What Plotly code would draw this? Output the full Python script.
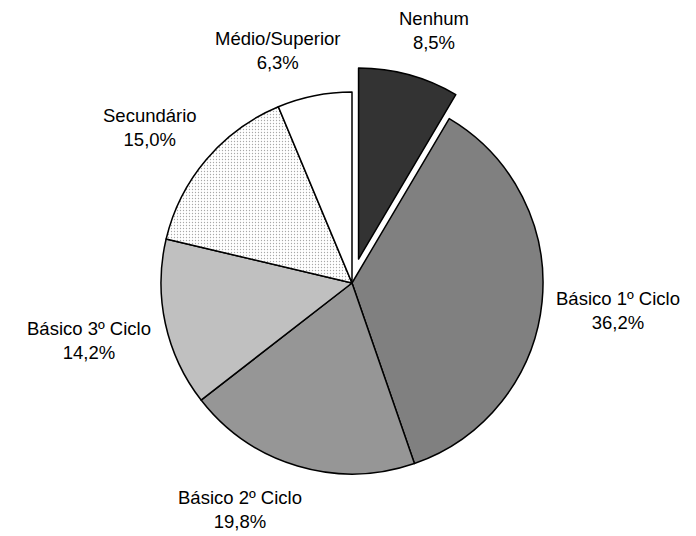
import numpy as np
import plotly.graph_objects as go

categorias = ["Nenhum", "Básico 1º Ciclo", "Básico 2º Ciclo", "Básico 3º Ciclo",
              "Secundário", "Médio/Superior"]
valores = [8.5, 36.2, 19.8, 14.2, 15.0, 6.3]
etiquetas = ["8,5%", "36,2%", "19,8%", "14,2%", "15,0%", "6,3%"]
destaque = [0.13, 0, 0, 0, 0, 0]

cores = ["#333333", "#808080", "#969696", "#c0c0c0", "#ffffff", "#ffffff"]
padroes = ["", "", "", "", ".", ""]

# geometria da figura (pixels); a página tem 8px de margem no body
W, H = 696, 536
OFF = 8
CX, CY, R = 352 - OFF, 283 - OFF, 191
FS = 18.5
LH = FS * 1.3

caixa = R * (1 + max(destaque))
dom_x = [(CX - caixa) / W, (CX + caixa) / W]
dom_y = [(H - CY - caixa) / H, (H - CY + caixa) / H]

fig = go.Figure(go.Pie(
    labels=categorias,
    values=valores,
    text=etiquetas,
    textinfo="none",
    sort=False,
    direction="clockwise",
    rotation=0,
    pull=destaque,
    domain=dict(x=dom_x, y=dom_y),
    marker=dict(
        colors=cores,
        line=dict(color="black", width=1.5),
        pattern=dict(shape=padroes, fgcolor="#a8a8a8", bgcolor="#ffffff",
                     size=3, solidity=0.15),
    ),
    hoverinfo="label+text",
))

# rótulos fora da tarte, ao estilo do Excel
total = sum(valores)
acum = 0
for cat, v, et, p in zip(categorias, valores, etiquetas, destaque):
    meio = (acum + v / 2) / total * 2 * np.pi
    acum += v
    ux, uy = np.sin(meio), -np.cos(meio)
    hw = 0.5 * FS * 0.5 * max(len(cat), len(et))
    hh = LH
    g = 6 + 16 * uy ** 2
    d = R * (1 + p) + g
    sx = np.clip(2.6 * ux, -1, 1)
    sy = np.clip(3 * uy, -1, 1)
    px = CX + d * ux + hw * sx
    py = CY + d * uy + hh * sy
    fig.add_annotation(
        x=px / W, y=1 - py / H, xref="paper", yref="paper",
        text=f"{cat}<br>{et}", showarrow=False,
        xanchor="center", yanchor="middle", align="center",
        font=dict(family="Liberation Sans, Arial", size=FS, color="black"),
    )

fig.update_layout(
    width=W, height=H,
    showlegend=False,
    paper_bgcolor="white",
    plot_bgcolor="white",
    margin=dict(l=0, r=0, t=0, b=0),
)

fig.write_html("out.html")
